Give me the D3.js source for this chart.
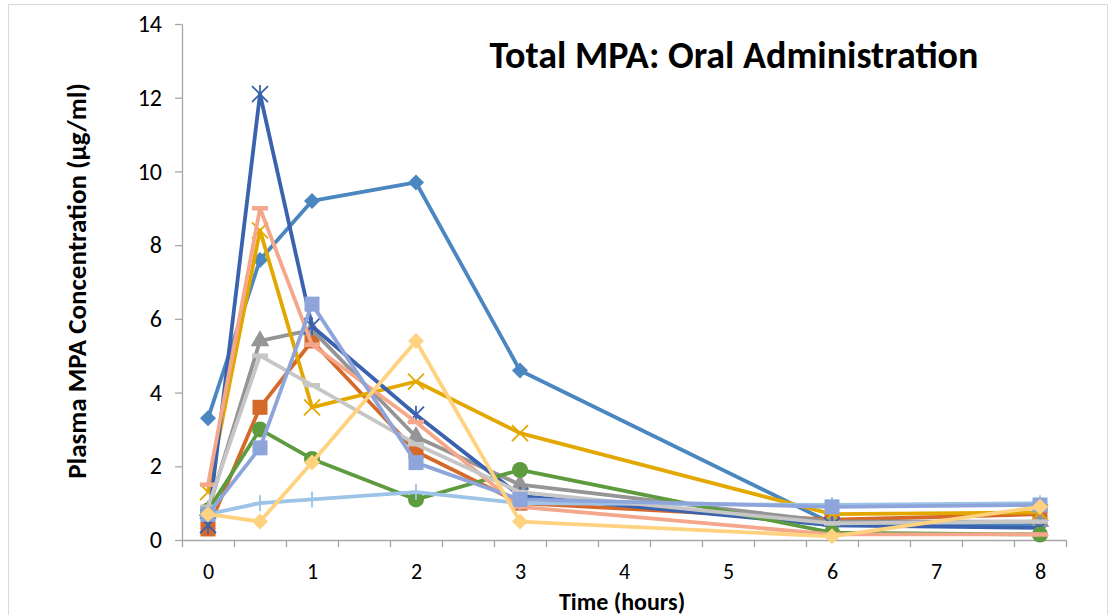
<!DOCTYPE html>
<html><head><meta charset="utf-8">
<script src="https://cdn.jsdelivr.net/npm/d3@7"></script>
<style>body{margin:0;background:#fff}svg{display:block}</style>
</head><body>
<svg id="c" width="1112" height="615"></svg>
<script>
const times = [0, 0.5, 1, 2, 3, 6, 8];
const xLabels = [0, 1, 2, 3, 4, 5, 6, 7, 8];
const yTicks = [0, 2, 4, 6, 8, 10, 12, 14];
const s1 = [3.3, 7.6, 9.2, 9.7, 4.6, 0.45, 0.4];
const s2 = [0.3, 3.6, 5.4, 2.4, 1.0, 0.55, 0.7];
const s3 = [0.8, 5.4, 5.7, 2.8, 1.5, 0.5, 0.5];
const s4 = [1.3, 8.4, 3.6, 4.3, 2.9, 0.7, 0.75];
const s5 = [0.4, 12.1, 5.8, 3.4, 1.2, 0.4, 0.33];
const s6 = [0.8, 3.0, 2.2, 1.1, 1.9, 0.2, 0.15];
const s7 = [0.7, 1.0, 1.1, 1.3, 1.0, 0.95, 1.0];
const s8 = [1.5, 9.0, 5.3, 3.2, 0.9, 0.15, 0.15];
const s9 = [0.9, 5.0, 4.2, 2.6, 1.3, 0.45, 0.5];
const s10 = [0.7, 2.5, 6.4, 2.1, 1.1, 0.9, 0.95];
const s11 = [0.7, 0.5, 2.1, 5.4, 0.5, 0.1, 0.9];
const seriesValues = [s1, s2, s3, s4, s5, s6, s7, s8, s9, s10, s11];
const seriesColors = ["#4A86C0", "#D4692A", "#959595", "#E3A800", "#3A62AE", "#5E9B3E", "#9DC3E6", "#F4A78B", "#C6C6C6", "#8EA5DB", "#FFD27F"];
const seriesMarkers = ["diamond", "square", "triangle", "x", "star", "circle", "plus", "dash", "dash", "square", "diamond"];

const svg = d3.select("#c");
const font = "Carlito, Lato, 'Open Sans', sans-serif";
svg.append("rect").attr("x", 8.5).attr("y", 4.5).attr("width", 1099).attr("height", 640)
  .attr("fill", "none").attr("stroke", "#D9D9D9").attr("stroke-width", 1);

const x = d3.scaleLinear().domain([-0.25, 8.25]).range([182, 1066]);
const y = d3.scaleLinear().domain([0, 14]).range([540, 24]);
const axisColor = "#A6A6A6";

const ya = svg.append("g").attr("transform", "translate(182,0)")
  .call(d3.axisLeft(y).tickValues(yTicks).tickSize(7).tickSizeOuter(0).tickPadding(13));
ya.select(".domain").attr("stroke", axisColor).attr("stroke-width", 1.3);
ya.selectAll(".tick line").attr("stroke", axisColor).attr("stroke-width", 1.3);
ya.selectAll("text").attr("font-family", font).attr("font-size", 24).attr("fill", "#000");

const xTickVals = d3.range(0, 18).map(k => -0.25 + 0.5 * k);
const xa = svg.append("g").attr("transform", "translate(0,540)")
  .call(d3.axisBottom(x).tickValues(xTickVals).tickSize(7).tickSizeOuter(0).tickFormat(""));
xa.select(".domain").attr("stroke", axisColor).attr("stroke-width", 1.3);
xa.selectAll(".tick line").attr("stroke", axisColor).attr("stroke-width", 1.3);
const xl = svg.append("g").attr("transform", "translate(0,540)")
  .call(d3.axisBottom(x).tickValues(xLabels).tickSize(0).tickPadding(23).tickFormat(d3.format("d")));
xl.select(".domain").remove();
xl.selectAll("text").attr("font-family", font).attr("font-size", 22).attr("fill", "#000");

function drawMarker(g, type, color, cx, cy) {
  if (type === "diamond") {
    const r = 8;
    g.append("path").attr("d", `M${cx},${cy - r}L${cx + r},${cy}L${cx},${cy + r}L${cx - r},${cy}Z`).attr("fill", color);
  } else if (type === "square") {
    g.append("rect").attr("x", cx - 7.5).attr("y", cy - 7.5).attr("width", 15).attr("height", 15).attr("fill", color);
  } else if (type === "triangle") {
    g.append("path").attr("d", d3.symbol(d3.symbolTriangle, 150)()).attr("transform", `translate(${cx},${cy})`).attr("fill", color);
  } else if (type === "circle") {
    g.append("circle").attr("cx", cx).attr("cy", cy).attr("r", 8).attr("fill", color);
  } else if (type === "x" || type === "star") {
    const r = 8;
    g.append("path").attr("d", `M${cx - r},${cy - r}L${cx + r},${cy + r}M${cx - r},${cy + r}L${cx + r},${cy - r}` + (type === "star" ? `M${cx},${cy - r - 1}L${cx},${cy + r + 1}` : ""))
      .attr("stroke", color).attr("stroke-width", 1.8).attr("fill", "none");
  } else if (type === "plus") {
    g.append("path").attr("d", `M${cx - 7},${cy}L${cx + 7},${cy}M${cx},${cy - 8}L${cx},${cy + 8}`)
      .attr("stroke", color).attr("stroke-width", 1.8);
  } else if (type === "dash") {
    g.append("path").attr("d", `M${cx - 8},${cy}L${cx + 8},${cy}`).attr("stroke", color).attr("stroke-width", 4.5);
  }
}

const line = d3.line().x(d => x(d[0])).y(d => y(d[1]));
seriesValues.forEach((vals, i) => {
  const g = svg.append("g");
  const pts = times.map((t, j) => [t, vals[j]]);
  g.append("path").attr("d", line(pts)).attr("fill", "none").attr("stroke", seriesColors[i])
    .attr("stroke-width", 3.8).attr("stroke-linejoin", "round");
  pts.forEach(p => drawMarker(g, seriesMarkers[i], seriesColors[i], x(p[0]), y(p[1])));
});

svg.append("text").attr("x", 734).attr("y", 68).attr("text-anchor", "middle")
  .attr("font-family", font).attr("font-weight", "bold").attr("font-size", 38).attr("fill", "#000")
  .text("Total MPA: Oral Administration");
svg.append("text").attr("transform", "translate(86,281) rotate(-90)").attr("text-anchor", "middle")
  .attr("font-family", font).attr("font-weight", "bold").attr("font-size", 27).attr("fill", "#000")
  .text("Plasma MPA Concentration (µg/ml)");
svg.append("text").attr("x", 622).attr("y", 610).attr("text-anchor", "middle")
  .attr("font-family", font).attr("font-weight", "bold").attr("font-size", 24).attr("fill", "#000")
  .text("Time (hours)");
</script>
</body></html>
